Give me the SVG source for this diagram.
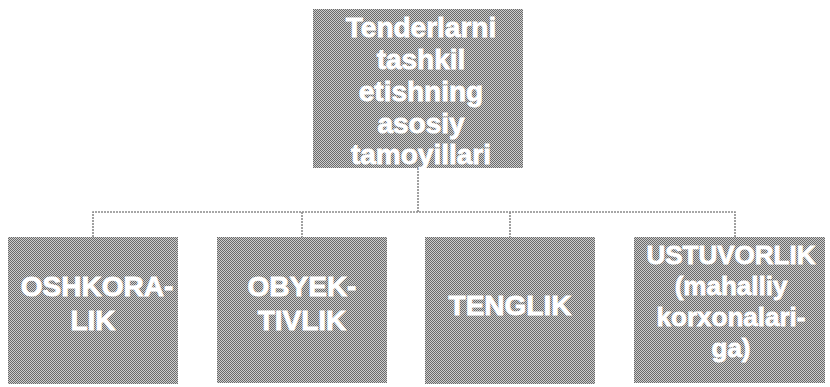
<svg xmlns="http://www.w3.org/2000/svg" width="830" height="387" viewBox="0 0 830 387">
<defs>
<pattern id="dither" width="2" height="2" patternUnits="userSpaceOnUse">
<rect width="2" height="2" fill="#cdcdcd"/>
<rect width="1" height="1" fill="#6a6a6a"/>
<rect x="1" y="1" width="1" height="1" fill="#6a6a6a"/>
</pattern>
</defs>
<style>
.box{fill:url(#dither);}
.t{font-family:"Liberation Sans",Arial,sans-serif;font-weight:bold;fill:#ffffff;stroke:#ffffff;stroke-width:0.8;text-anchor:middle;font-size:28px;}
.s{font-size:26px;}
.c{fill:none;stroke:#8a8a8a;stroke-width:1.6;stroke-dasharray:2 1;}
</style>
<rect width="830" height="387" fill="#ffffff"/>
<g id="connectors">
<path class="c" d="M418 168 V212"/>
<path class="c" d="M93 237 V212 H735 V237"/>
<path class="c" d="M302 212 V237"/>
<path class="c" d="M510 212 V237"/>
</g>
<g id="root">
<rect class="box" x="313" y="9" width="210" height="159"/>
<text class="t" x="421" y="37">Tenderlarni</text>
<text class="t" x="421" y="69">tashkil</text>
<text class="t" x="421" y="101">etishning</text>
<text class="t" x="421" y="133">asosiy</text>
<text class="t" x="421" y="164">tamoyillari</text>
</g>
<g id="oshkoralik">
<rect class="box" x="8" y="237" width="170" height="147"/>
<text class="t" x="97" y="296">OSHKORA-</text>
<text class="t" x="93" y="330">LIK</text>
</g>
<g id="obyektivlik">
<rect class="box" x="217" y="237" width="170" height="146"/>
<text class="t" x="302" y="296">OBYEK-</text>
<text class="t" x="302" y="330">TIVLIK</text>
</g>
<g id="tenglik">
<rect class="box" x="425" y="237" width="170" height="147"/>
<text class="t" x="510" y="315">TENGLIK</text>
</g>
<g id="ustuvorlik">
<rect class="box" x="634" y="237" width="191" height="146"/>
<text class="t s" x="731" y="264">USTUVORLIK</text>
<text class="t s" x="731" y="295">(mahalliy</text>
<text class="t s" x="731" y="326">korxonalari-</text>
<text class="t s" x="731" y="357">ga)</text>
</g>
</svg>
